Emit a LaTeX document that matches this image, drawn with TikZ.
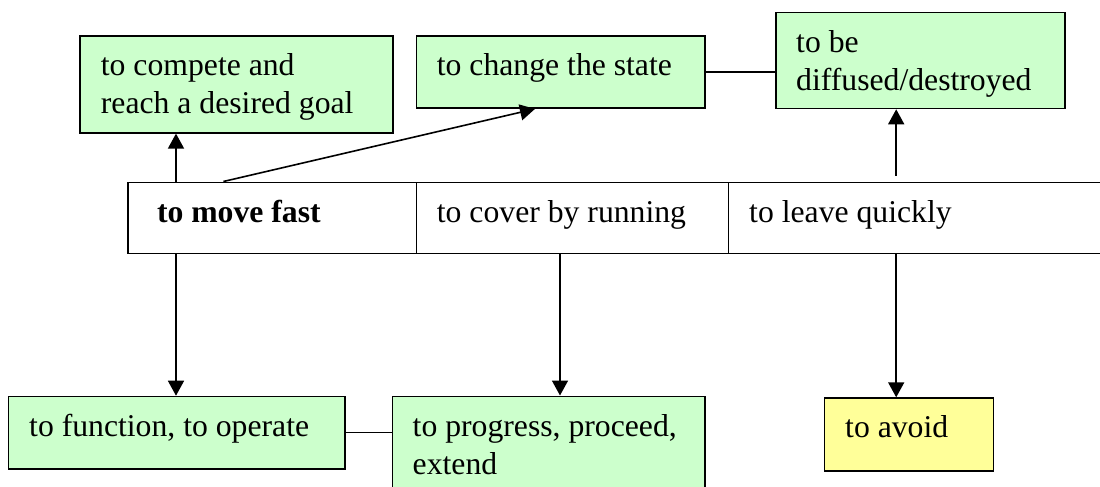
\documentclass[tikz,border=0pt]{standalone}
\usepackage{fontspec}
\setmainfont{Liberation Serif}
\usetikzlibrary{arrows.meta}
\definecolor{leafgreen}{HTML}{CCFFCC}
\definecolor{paleyellow}{HTML}{FFFF99}
\tikzset{
  box/.style={draw=black, line width=1.6pt, inner sep=0pt, anchor=north west},
  gbox/.style={box, fill=leafgreen},
  ybox/.style={box, fill=paleyellow},
  cell/.style={box, fill=white},
  % anchor=base west sits on the baseline of the last line
  lbl/.style={inner sep=0pt, anchor=base west, align=left,
              font=\fontsize{31.7}{38}\selectfont},
  boldlbl/.style={lbl, font=\fontsize{31.7}{38}\selectfont\bfseries},
  link/.style={line width=1.6pt},
  arr/.style={link, -{Triangle[length=15pt,width=16pt]}},
}
\begin{document}
\begin{tikzpicture}[x=1pt,y=-1pt]
\useasboundingbox (0,0) rectangle (1100,487);
\clip (0,0) rectangle (1100,487);

% boxes
\node[gbox, minimum width=313pt, minimum height=97pt] (compete) at (79,35) {};
\node[gbox, minimum width=288.7pt, minimum height=72.3pt] (change) at (415.6,35) {};
\node[gbox, minimum width=289pt, minimum height=96pt] (diffused) at (775,11.7) {};
\node[cell, minimum width=288.3pt, minimum height=71pt] (move) at (127.3,181.5) {};
\node[cell, minimum width=312.2pt, minimum height=71pt] (cover) at (415.6,181.5) {};
\node[cell, minimum width=400pt, minimum height=71pt] (leave) at (727.8,181.5) {};
\node[gbox, minimum width=336.3pt, minimum height=72.3pt] (function) at (7.7,395.7) {};
\node[gbox, minimum width=312.6pt, minimum height=120pt] (progress) at (391.7,395.5) {};
\node[ybox, minimum width=169pt, minimum height=72.7pt] (avoid) at (823.6,397.3) {};

% labels
\node[lbl] (compete-t) at (100.7,113) {to compete and\\reach a desired goal};
\node[lbl] (change-t) at (436.7,75) {to change the state};
\node[lbl] (diffused-t) at (796,90) {to be\\diffused/destroyed};
\node[boldlbl] (move-t) at (156.8,222) {to move fast};
\node[lbl] (cover-t) at (436.7,222) {to cover by running};
\node[lbl] (leave-t) at (749,222) {to leave quickly};
\node[lbl] (function-t) at (29,436) {to function, to operate};
\node[lbl] (progress-t) at (412.5,474) {to progress, proceed,\\extend};
\node[lbl] (avoid-t) at (845,437) {to avoid};

% connectors
\coordinate (mvA) at ([xshift=48.7pt]move.north west);
\coordinate (mvB) at ([xshift=96.1pt]move.north west);
\coordinate (mvC) at ([xshift=48.7pt]move.south west);
\coordinate (cvC) at ([xshift=144.4pt]cover.south west);
\coordinate (lvA) at ([xshift=168.4pt]leave.north west);
\coordinate (lvC) at ([xshift=168.4pt]leave.south west);

\draw[arr] (mvA) -- (mvA |- compete.south);
\draw[arr] (mvB) -- ([xshift=119.4pt]change.south west);
\draw[link] (change.east) -- (change.east -| diffused.west);
\draw[arr, shorten <=6pt] (lvA) -- (lvA |- diffused.south);
\draw[arr] (mvC) -- (mvC |- function.north);
\draw[arr] (cvC) -- (cvC |- progress.north);
\draw[arr] (lvC) -- (lvC |- avoid.north);
\draw[link] (function.east) -- (function.east -| progress.west);
\end{tikzpicture}
\end{document}
